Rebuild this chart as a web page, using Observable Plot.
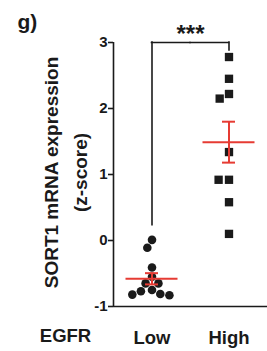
<!DOCTYPE html>
<html><head><meta charset="utf-8">
<script src="https://cdn.jsdelivr.net/npm/d3@7"></script>
<script src="https://cdn.jsdelivr.net/npm/@observablehq/plot@0.6"></script>
<style>body{margin:0;background:#fff} svg{display:block}</style>
</head><body><div id="chart"></div>
<script>
const groups = ["Low", "High"];
const lowValues = [0.01, -0.11, -0.41, -0.55, -0.65, -0.65, -0.75, -0.77, -0.81, -0.83, -0.82];
const highValues = [2.78, 2.45, 2.22, 2.15, 1.34, 0.92, 0.92, 0.58, 0.10];
const groupMeans = [-0.58, 1.49];
const groupSems = [0.085, 0.31];
const yTicks = [-1, 0, 1, 2, 3];
const bracketTop = 3.0;
const bracketEnds = [0.23, 2.88];
const sigLabel = "***";
const yLabel = ["SORT1 mRNA expression", "(z-score)"];
const xTitle = "EGFR";
const panelLabel = "g)";

const red = "#e63b33";
const ink = "#1a1a1a";

const lowPts = lowValues.map(v => ({group: "Low", value: v}));
const highPts = highValues.map(v => ({group: "High", value: v}));
const stats = groups.map((g, i) => ({group: g, mean: groupMeans[i], lo: groupMeans[i] - groupSems[i], hi: groupMeans[i] + groupSems[i]}));
const bracket = groups.map((g, i) => ({group: g, end: bracketEnds[i]}));

const chart = Plot.plot({
  width: 267, height: 351,
  marginLeft: 113, marginRight: 0, marginTop: 42, marginBottom: 45,
  style: {fontFamily: "'Liberation Sans', Arial, sans-serif", fontWeight: "bold", color: ink, background: "#fff"},
  fx: {domain: groups, padding: 0, label: null},
  x: {domain: [-1, 1], axis: null},
  y: {domain: [-1, 3], label: null},
  marks: [
    Plot.ruleY([-1], {stroke: ink, strokeWidth: 1.6}),
    Plot.ruleX([{group: "Low"}], {fx: "group", x: -1, y1: -1, y2: 3, stroke: ink, strokeWidth: 1.6}),
    Plot.axisY(yTicks, {tickSize: 5, tickPadding: 1, fontSize: 15, label: null, stroke: ink, strokeWidth: 1.6, tickFormat: d => String(d)}),
    Plot.axisFx({anchor: "bottom", tickSize: 0, tickPadding: 24, fontSize: 18.5, label: null}),
    Plot.text([{group: "Low", t: xTitle}], {fx: "group", text: "t", frameAnchor: "bottom-left", textAnchor: "middle", lineAnchor: "middle", dx: -48, dy: 30, fontSize: 18.5}),
    Plot.text([{group: "Low", t: yLabel[0]}], {fx: "group", text: "t", frameAnchor: "left", rotate: -90, textAnchor: "middle", lineAnchor: "middle", dx: -62, dy: -2, fontSize: 19}),
    Plot.text([{group: "Low", t: yLabel[1]}], {fx: "group", text: "t", frameAnchor: "left", rotate: -90, textAnchor: "middle", lineAnchor: "middle", dx: -33, dy: -2, fontSize: 19}),
    Plot.text([{group: "Low", t: panelLabel}], {fx: "group", text: "t", frameAnchor: "top-left", textAnchor: "start", lineAnchor: "middle", dx: -96, dy: -20, fontSize: 21}),
    // significance bracket
    Plot.ruleX(bracket, {fx: "group", x: 0, y1: "end", y2: bracketTop, stroke: ink, strokeWidth: 1.6, strokeLinecap: "square"}),
    Plot.ruleY(bracket, {fx: "group", y: bracketTop, x1: d => d.group === "Low" ? 0 : -1, x2: d => d.group === "Low" ? 1 : 0, stroke: ink, strokeWidth: 1.6, strokeLinecap: "square"}),
    Plot.text([{group: "High", t: sigLabel}], {fx: "group", text: "t", x: -1, y: bracketTop, dy: -8, textAnchor: "middle", lineAnchor: "middle", fontSize: 24}),
    // points
    Plot.dot(lowPts, Plot.dodgeX({anchor: "middle", padding: 0.6}, {fx: "group", y: "value", r: 4.3, fill: ink})),
    Plot.dot(highPts, Plot.dodgeX({anchor: "middle", padding: 1}, {fx: "group", y: "value", r: 4.7, symbol: "square", fill: ink})),
    // mean and SEM
    Plot.ruleY(stats, {fx: "group", y: "mean", stroke: red, strokeWidth: 2, insetLeft: 12.5, insetRight: 12.5}),
    Plot.ruleX(stats, {fx: "group", x: 0, y1: "lo", y2: "hi", stroke: red, strokeWidth: 2}),
    Plot.ruleY(stats, {fx: "group", y: "lo", stroke: red, strokeWidth: 2, insetLeft: 32, insetRight: 32}),
    Plot.ruleY(stats, {fx: "group", y: "hi", stroke: red, strokeWidth: 2, insetLeft: 32, insetRight: 32})
  ]
});
document.getElementById("chart").appendChild(chart);
</script>
</body></html>
